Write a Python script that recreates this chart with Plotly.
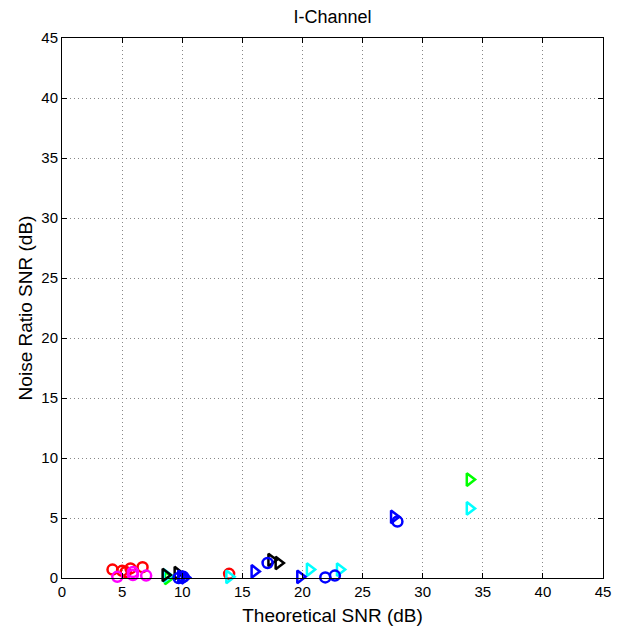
import plotly.graph_objects as go

red_x = [4.2, 5.0, 5.3, 5.7, 6.7, 13.9]
red_y = [0.7, 0.6, 0.5, 0.8, 0.9, 0.35]
mag_x = [4.6, 5.9, 5.9, 7.0]
mag_y = [0.1, 0.25, 0.5, 0.2]
blk_x = [8.6, 9.6, 17.4, 18.0]
blk_y = [0.25, 0.4, 1.5, 1.25]
cyan_x = [8.7, 13.9, 20.6, 23.1, 33.9]
cyan_y = [0.2, 0.1, 0.7, 0.7, 5.8]
grn_x = [8.8, 33.9]
grn_y = [0.0, 8.2]
btri_x = [9.9, 10.2, 16.0, 19.8, 27.6]
btri_y = [0.1, 0.05, 0.55, 0.1, 5.1]
bcir_x = [9.7, 10.1, 17.1, 21.9, 22.7, 27.9]
bcir_y = [0.0, 0.1, 1.25, 0.05, 0.2, 4.7]

x_ticks = list(range(0, 50, 5))
y_ticks = list(range(0, 50, 5))

fig = go.Figure()

def add(x, y, color, symbol, size):
    fig.add_trace(go.Scatter(
        x=x, y=y, mode="markers",
        marker=dict(symbol=symbol, size=size, color=color,
                    line=dict(color=color, width=2.5)),
        cliponaxis=False, showlegend=False))

add(red_x, red_y, "#ff0000", "circle-open", 10)
add(mag_x, mag_y, "#ff00ff", "circle-open", 10)
add(grn_x, grn_y, "#00ff00", "triangle-right-open", 11)
add(cyan_x, cyan_y, "#00ffff", "triangle-right-open", 11)
add(blk_x, blk_y, "#000000", "triangle-right-open", 11)
add(btri_x, btri_y, "#0000ff", "triangle-right-open", 11)
add(bcir_x, bcir_y, "#0000ff", "circle-open", 10)

axis_common = dict(
    showgrid=True, gridcolor="#888888", griddash="1px,3px", gridwidth=1,
    showline=True, linecolor="black", linewidth=1, mirror="ticks",
    ticks="inside", ticklen=5, tickcolor="black",
    tickfont=dict(family="Liberation Sans, Arial", size=15, color="black"),
    zeroline=False, automargin=False,
)

fig.update_layout(
    width=624, height=629,
    margin=dict(l=62, r=21, t=38, b=51),
    plot_bgcolor="white", paper_bgcolor="white",
    title=dict(text="I-Channel", x=0.5, xref="paper", xanchor="center",
               y=1 - 17/629, yanchor="middle",
               font=dict(family="Liberation Sans, Arial", size=18, color="black")),
    xaxis=dict(range=[0, 45], tickvals=x_ticks,
               title=dict(text="Theoretical SNR (dB)", standoff=9,
                          font=dict(family="Liberation Sans, Arial", size=19, color="black")),
               **axis_common),
    yaxis=dict(range=[0, 45], tickvals=y_ticks,
               title=dict(text="Noise Ratio SNR (dB)", standoff=3,
                          font=dict(family="Liberation Sans, Arial", size=19, color="black")),
               **axis_common),
)

fig.write_html("out.html")
